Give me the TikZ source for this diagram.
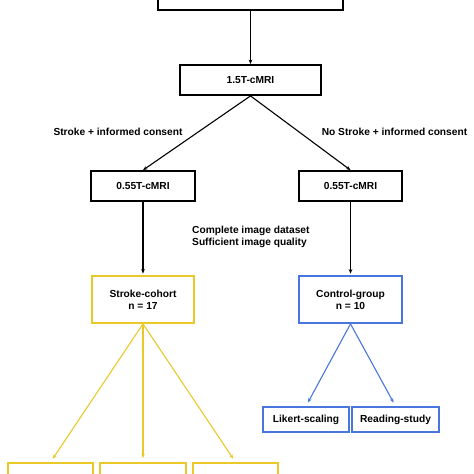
\documentclass[tikz,border=0pt]{standalone}
\usepackage{fontspec}
\setmainfont{Liberation Sans}
\usetikzlibrary{arrows.meta}
\definecolor{cohortyellow}{RGB}{234,200,40}
\definecolor{controlblue}{RGB}{72,118,222}
\tikzset{
	box/.style={draw=black, line width=1.8pt, fill=white, inner sep=0pt, font=\bfseries\fontsize{10.2}{12}\selectfont, align=center},
	ybox/.style={box, draw=cohortyellow},
	bbox/.style={box, draw=controlblue},
	flow/.style={line width=1.1pt, -{Stealth[length=4.5pt,width=3.6pt]}},
	lbl/.style={font=\bfseries\fontsize{10.2}{12}\selectfont, inner sep=0pt}
}
\begin{document}
\begin{tikzpicture}[x=1pt,y=-1pt]
		\useasboundingbox (0,0) rectangle (474,474);
		\clip (0,0) rectangle (474,474);

		% Screening
		\node[box, minimum width=185pt, minimum height=30pt] (screen) at (250.5,-5) {};
		\node[box, minimum width=141pt, minimum height=30pt] (mri15) at (250.5,80) {1.5T-cMRI};
		\draw[flow] (screen) -- (mri15);

		% Low-field scans
		\node[box, minimum width=104pt, minimum height=30pt] (mriL) at (143,186) {0.55T-cMRI};
		\node[box, minimum width=103pt, minimum height=30pt] (mriR) at (350.5,186) {0.55T-cMRI};
		\draw[flow] (mri15.south) -- (mriL.north);
		\draw[flow] (mri15.south) -- (mriR.north);
		\node[lbl] (consentL) at (118,132) {Stroke + informed consent};
		\node[lbl] (consentR) at (394.5,132) {No Stroke + informed consent};

		% Groups
		\node[ybox, minimum width=102pt, minimum height=47pt] (stroke) at (143,299.5) {Stroke-cohort\\n = 17};
		\node[bbox, minimum width=103pt, minimum height=47pt] (control) at (350.5,299.5) {Control-group\\n = 10};
		\draw[flow, shorten >=1.5pt] (mriL) -- (stroke);
		\draw[flow, shorten >=1.5pt] (mriR) -- (control);
		\node[lbl, anchor=north west, align=left] (criteria) at (192,226) {Complete image dataset\\Sufficient image quality};

		% Control analyses
		\node[bbox, minimum width=86pt, minimum height=25pt] (likert) at (306,419.5) {Likert-scaling};
		\node[bbox, minimum width=87pt, minimum height=25pt] (reading) at (395.5,419.5) {Reading-study};
		\draw[flow, controlblue, shorten >=4pt] (control.south) -- (likert.north);
		\draw[flow, controlblue, shorten >=4pt] (control.south) -- (reading.north);

		% Stroke analyses
		\node[ybox, minimum width=85pt, minimum height=34pt] (outA) at (50.5,480) {};
		\node[ybox, minimum width=86pt, minimum height=34pt] (outB) at (143,480) {};
		\node[ybox, minimum width=85pt, minimum height=34pt] (outC) at (235.5,480) {};
		\draw[flow, cohortyellow, shorten >=4pt] (stroke.south) -- (outA.north);
		\draw[flow, cohortyellow, shorten >=4pt] (stroke.south) -- (outB.north);
		\draw[flow, cohortyellow, shorten >=4pt] (stroke.south) -- (outC.north);
\end{tikzpicture}
\end{document}
